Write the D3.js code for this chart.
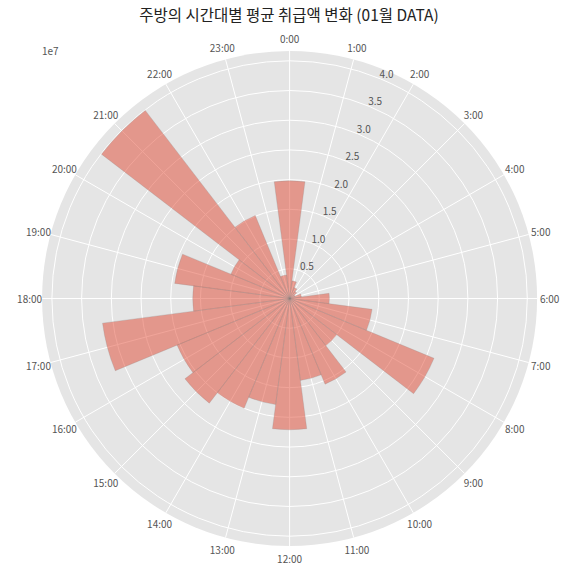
<!DOCTYPE html>
<html>
<head>
<meta charset="utf-8">
<script src="https://cdn.jsdelivr.net/npm/d3@7"></script>
<style>
  body { margin: 0; background: #fff; }
  text { font-family: "Noto Sans CJK KR", "Noto Sans", sans-serif; }
</style>
</head>
<body>
<div id="chart"></div>
<script>
// hours of the day and the average amount (x 1e7) per hour
var hours = d3.range(24);
var hourLabels = hours.map(function(h) { return h + ":00"; });
var values = [1.98, 0.30, 0.20, 0.15, 0.10, 0.20, 0.67, 1.40, 2.63, 1.00, 1.56, 1.39,
              2.21, 1.80, 2.00, 2.22, 2.05, 3.175, 1.63, 1.95, 1.07, 3.99, 1.51, 0.40];
var rTicks = [0.5, 1.0, 1.5, 2.0, 2.5, 3.0, 3.5, 4.0];
var rMax = 4.165;

var width = 576, height = 576;
var cx = 289.6, cy = 298.5, R = 247.5;

var svg = d3.select("#chart").append("svg")
    .attr("width", width)
    .attr("height", height);

svg.append("text")
    .attr("x", 289)
    .attr("y", 21)
    .attr("text-anchor", "middle")
    .style("font-size", "15.5px")
    .style("fill", "#222")
    .text("주방의 시간대별 평균 취급액 변화 (01월 DATA)");

var g = svg.append("g").attr("transform", "translate(" + cx + "," + cy + ")");

var r = d3.scaleLinear().domain([0, rMax]).range([0, R]);
var theta = d3.scaleLinear().domain([0, 24]).range([0, 2 * Math.PI]);

// background disc
g.append("circle").attr("r", R).style("fill", "#E5E5E5");

// rings
g.selectAll(".ring").data(rTicks).enter().append("circle")
    .attr("r", function(d) { return r(d); })
    .style("fill", "none")
    .style("stroke", "#fff")
    .style("stroke-width", 1);

// spokes
g.selectAll(".spoke").data(hours).enter().append("line")
    .attr("x1", 0).attr("y1", 0)
    .attr("x2", function(d) { return R * Math.sin(theta(d)); })
    .attr("y2", function(d) { return -R * Math.cos(theta(d)); })
    .style("stroke", "#fff")
    .style("stroke-width", 1);

// bars
var half = Math.PI / 24;
var arc = d3.arc()
    .innerRadius(0)
    .outerRadius(function(d) { return r(d.v); })
    .startAngle(function(d) { return theta(d.h) - half; })
    .endAngle(function(d) { return theta(d.h) + half; });

g.selectAll(".bar").data(hours.map(function(h, i) { return {h: h, v: values[i]}; }))
  .enter().append("path")
    .attr("d", arc)
    .style("fill", "#E24A33")
    .style("fill-opacity", 0.5)
    .style("stroke", "#888")
    .style("stroke-opacity", 0.4)
    .style("stroke-width", 0.6);

// radial tick labels (along 22.5 deg)
var la = 22.5 * Math.PI / 180;
g.selectAll(".rlab").data(rTicks).enter().append("text")
    .attr("x", function(d) { return r(d) * Math.sin(la) + 6; })
    .attr("y", function(d) { return -r(d) * Math.cos(la) - 5.5; })
    .attr("text-anchor", "middle")
    .attr("dominant-baseline", "central")
    .style("font-size", "10px")
    .style("fill", "#555")
    .text(function(d) { return d.toFixed(1); });

// hour labels
g.selectAll(".hlab").data(hours).enter().append("text")
    .attr("x", function(d) { return 260 * Math.sin(theta(d)); })
    .attr("y", function(d) { return -260 * Math.cos(theta(d)); })
    .attr("text-anchor", "middle")
    .attr("dominant-baseline", "central")
    .style("font-size", "10px")
    .style("fill", "#555")
    .text(function(d, i) { return hourLabels[i]; });

// scale multiplier
svg.append("text")
    .attr("x", 42)
    .attr("y", 50)
    .attr("dominant-baseline", "central")
    .style("font-size", "10px")
    .style("fill", "#555")
    .text("1e7");
</script>
</body>
</html>
